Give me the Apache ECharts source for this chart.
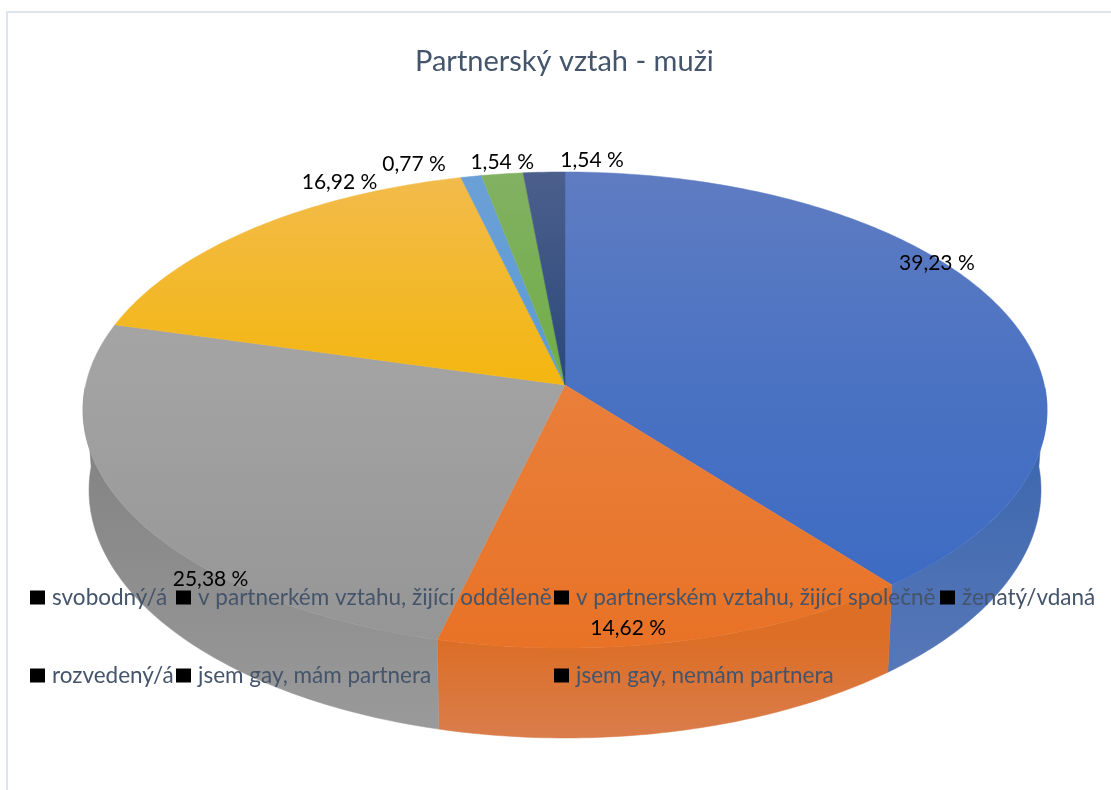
<!DOCTYPE html>
<html>
<head>
<meta charset="utf-8">
<style>html,body{margin:0;padding:0;background:#fff}#c{width:1111px;height:790px}</style>
<script src="https://cdn.jsdelivr.net/npm/echarts@6/dist/echarts.min.js"></script>
</head>
<body>
<div id="c"></div>
<script>
// ---- data ----
const categories = ['svobodný/á','v partnerkém vztahu, žijící odděleně','v partnerském vztahu, žijící společně','ženatý/vdaná','rozvedený/á','jsem gay, mám partnera','jsem gay, nemám partnera'];
const values = [39.23,14.62,25.38,16.92,0.77,1.54,1.54];
const valueLabels = ['39,23 %','14,62 %','25,38 %','16,92 %','0,77 %','1,54 %','1,54 %'];
const chartTitle = 'Partnerský vztah - muži';

// ---- styling ----
const topStops = [
  ['#5f7cc2','#4a72c2','#3a69c3'],
  ['#e98a52','#e97f3a','#e87226'],
  ['#aaaaaa','#a2a2a2','#959595'],
  ['#f2bb4c','#f4b60f','#f4b400'],
  ['#6ba0d6','#5b9bd5','#5b9bd5'],
  ['#82b162','#70ad47','#70ad47'],
  ['#4c5f8d','#2a4878','#264478']
];
const sideStops = [
  ['#3a66ae','#5878b8'],['#dc6e26','#d97d4c'],['#828282','#9a9a9a'],
  ['#c09000','#c09000'],['#4a80b0','#4a80b0'],['#5a8a38','#5a8a38'],['#1e3660','#1e3660']
];
const sideRange = [[430,680],[640,738],[430,730],[430,500],[430,500],[430,500],[430,500]];
const labelShift = [[-65,-46],[-52,-13],[82,68],[86,-46],[-57,-12],[0,-12],[48,-12]];
const legendSlots = [[30,586],[176,586],[554,586],[940,586],[30,664],[176,664],[554,664]];

// ---- projection of the tilted disc ----
const CX=565, APEX=385, A=479.3, B=235.4, K=0.105;
const TOP={cy:410,rx:482,ry:238}, BOT={cy:490,rx:476,ry:248};
const total = values.reduce((a,b)=>a+b,0);
const cum=[0]; values.forEach((v,i)=>cum.push(cum[i]+v));
const ang = v => v/total*2*Math.PI;
function rim(t){const s=Math.sin(t),c=Math.cos(t),w=1+K*c;return [CX+A*s/w,APEX-B*c/w];}
function phi(t){const p=rim(t);let f=Math.atan2((p[0]-CX)/TOP.rx,(TOP.cy-p[1])/TOP.ry);if(f<0)f+=2*Math.PI;return f;}
function botPt(f){return [CX+BOT.rx*Math.sin(f),BOT.cy-BOT.ry*Math.cos(f)];}
function topPt(f){return [CX+TOP.rx*Math.sin(f),TOP.cy-TOP.ry*Math.cos(f)];}
function grad(y1,y2,cols){return {type:'linear',x:0,y:y1,x2:0,y2:y2,global:true,
  colorStops:cols.map((c,i)=>({offset:i/(cols.length-1),color:c}))};}

function renderSlice(i){
  const t0=ang(cum[i]),t1=ang(cum[i+1]);
  const children=[];
  // outer wall
  let f0=phi(t0),f1=phi(t1); if(i===0)f0=0; if(f1<f0)f1+=2*Math.PI; if(i===values.length-1)f1=2*Math.PI;
  const lo=Math.max(f0,Math.PI*0.47),hi=Math.min(f1,Math.PI*1.53);
  if(hi>lo){
    const up=[],dn=[],n=60;
    for(let j=0;j<=n;j++){const f=lo+(hi-lo)*j/n;up.push(topPt(f));dn.unshift(botPt(f));}
    const fill=grad(sideRange[i][0],sideRange[i][1],sideStops[i]);
    children.push({type:'polygon',shape:{points:up.concat(dn)},style:{fill,stroke:fill,lineWidth:0.5}});
  }
  // top face
  const pts=[[CX,APEX]];const n=Math.max(4,Math.ceil((t1-t0)*60));
  for(let j=0;j<=n;j++)pts.push(rim(t0+(t1-t0)*j/n));
  const topFill={type:'linear',x:0,y:172,x2:0,y2:650,global:true,colorStops:[
    {offset:0,color:topStops[i][0]},{offset:0.45,color:topStops[i][1]},{offset:1,color:topStops[i][2]}]};
  children.push({type:'polygon',z2:5,shape:{points:pts},style:{fill:topFill,stroke:topFill,lineWidth:0.5}});
  // value label
  const m=rim((t0+t1)/2);
  children.push({type:'text',z2:10,x:m[0]+labelShift[i][0],y:m[1]+labelShift[i][1],
    style:{text:valueLabels[i],fill:'#000',font:'21px Lato',align:'center',verticalAlign:'middle'}});
  return {type:'group',children};
}

const series=categories.map((name,i)=>({
  type:'custom',name,coordinateSystem:'none',silent:true,animation:false,
  z:2,data:[[values[i]]],itemStyle:{color:topStops[i][1]},
  renderItem:()=>renderSlice(i)
}));
const legend=categories.map((name,i)=>({
  data:[{name,icon:'rect'}],left:legendSlots[i][0],top:legendSlots[i][1],padding:0,
  itemWidth:15,itemHeight:14,selectedMode:false,orient:'horizontal',
  itemStyle:{color:'#000'},textStyle:{color:'#44546a',fontFamily:'Lato',fontSize:22.5,padding:[0,0,0,2]}
}));

const chart=echarts.init(document.getElementById('c'),null,{renderer:'canvas'});
chart.setOption({
  animation:false,backgroundColor:'#fff',
  title:{text:chartTitle,left:415,top:47,padding:0,textStyle:{color:'#44546a',fontFamily:'Lato',fontSize:29,fontWeight:'normal'}},
  legend,series,
  graphic:[{type:'rect',silent:true,z:0,shape:{x:7,y:12,width:1300,height:1000},style:{fill:'none',stroke:'#e0e4ec',lineWidth:2}}]
});
</script>
</body>
</html>
